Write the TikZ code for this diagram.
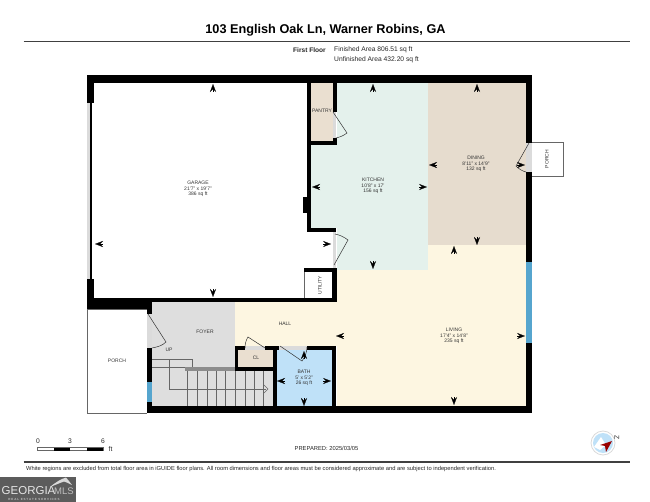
\documentclass[tikz,border=0pt]{standalone}
\usepackage{fontspec}
\setmainfont{Liberation Sans}
\usetikzlibrary{arrows.meta}
\definecolor{kitchencol}{HTML}{E4F1EC}
\definecolor{diningcol}{HTML}{E6DCCE}
\definecolor{livingcol}{HTML}{FDF6E1}
\definecolor{foyercol}{HTML}{DEDEDE}
\definecolor{bathcol}{HTML}{BFE1F8}
\definecolor{closetcol}{HTML}{EADFD0}
\definecolor{windowcol}{HTML}{56A5CE}
\definecolor{logocol}{HTML}{5C5C5C}
\tikzset{>=Stealth,
  wall/.style={fill=black},
  gap/.style={fill=black!14},
  doorline/.style={draw=black!80,line width=.5pt},
  thinline/.style={draw=black!60,line width=.5pt},
  dimtip/.style={-{Stealth[length=8pt,width=6pt,inset=3pt]},line width=.2pt},
  roomlabel/.style={font=\fontsize{5}{5.6}\selectfont,align=center,text=black!80,inner sep=0pt},
  infotext/.style={font=\fontsize{6.7}{7}\selectfont,text=black!85,inner sep=0pt}}
\begin{document}
\begin{tikzpicture}[x=1pt,y=-1pt]
\useasboundingbox (0,0) rectangle (650,502);
% room colours
\fill[kitchencol] (337,83) rectangle (428,270);
\fill[kitchencol] (311,145) rectangle (337,228);
\fill[diningcol] (428,83) rectangle (526,245);
\fill[closetcol] (311,83) rectangle (333,141);
\fill[livingcol] (428,245) rectangle (526,406);
\fill[livingcol] (337,270) rectangle (428,406);
\fill[livingcol] (235,302) rectangle (337,346);
\fill[foyercol] (152,302) rectangle (235,346);
\fill[foyercol] (152,346) rectangle (273,406);
\fill[closetcol] (238,350) rectangle (273,367);
\fill[bathcol] (277,350) rectangle (332,406);
% porches
\draw[thinline] (147,309) -- (87,309) -- (87,413) -- (147,413);
\draw[thinline] (526,142) -- (563,142) -- (563,176) -- (526,176);
% outer walls
\fill[wall] (87,75) rectangle (532,83);
\fill[wall] (87,75) rectangle (94,103);
\fill[wall] (87,279) rectangle (94,309);
\fill[gap] (87,103) rectangle (90,279);
\fill[wall] (90,103) rectangle (91.5,279);
\fill[wall] (526,75) rectangle (532,143);
\fill[gap] (526,143) rectangle (532,172);
\fill[wall] (526,172) rectangle (532,262);
\fill[windowcol] (526,262) rectangle (532,343);
\fill[wall] (526,343) rectangle (532,413);
\fill[wall] (147,406) rectangle (532,413);
% garage walls
\fill[wall] (87,298) rectangle (336,302);
\fill[wall] (87,302) rectangle (152,309);
\fill[wall] (307,83) rectangle (311,232);
\fill[wall] (303,197) rectangle (307,213);
\fill[wall] (307,141) rectangle (337,145);
\fill[wall] (333,83) rectangle (337,112);
\fill[gap] (333,112) rectangle (336,138);
\fill[wall] (333,138) rectangle (337,145);
\fill[wall] (307,228) rectangle (336,232);
\fill[gap] (333,232) rectangle (336,268);
% utility
\fill[wall] (304,268) rectangle (337,272);
\fill[wall] (332,268) rectangle (337,302);
\draw[thinline] (304,272) -- (304,298);
% foyer, closet and bath walls
\fill[wall] (147,309) rectangle (152,314);
\fill[gap] (147,314) rectangle (152,348);
\fill[wall] (147,348) rectangle (152,382);
\fill[windowcol] (147,382) rectangle (152,402);
\fill[wall] (147,402) rectangle (152,413);
\fill[wall] (235,346) rectangle (238,371);
\fill[wall] (235,346) rectangle (245,350);
\fill[gap] (245,346) rectangle (265,350);
\fill[wall] (265,346) rectangle (279,350);
\fill[gap] (279,346) rectangle (307,350);
\fill[wall] (307,346) rectangle (336,350);
\fill[wall] (235,367) rectangle (277,371);
\fill[wall] (273,346) rectangle (277,406);
\fill[wall] (332,346) rectangle (336,406);
% stairs
\fill[black!45] (185,367) rectangle (235,371);
\draw[thinline] (152,359) -- (192,359) -- (192,367);
\draw[thinline] (152,367) -- (185,367);
\draw[thinline] (187,371) -- (187,406);
\draw[thinline] (197,371) -- (197,406);
\draw[thinline] (207,371) -- (207,406);
\draw[thinline] (216,371) -- (216,406);
\draw[thinline] (225,371) -- (225,406);
\draw[thinline] (235,371) -- (235,406);
\draw[thinline] (245,371) -- (245,406);
\draw[thinline] (254,371) -- (254,406);
\draw[thinline] (263,371) -- (263,406);
\draw[thinline] (169,359) -- (169,389) -- (266,389);
\draw[thinline] (264,385) -- (268,389) -- (264,393);
% doors
\draw[doorline] (148,314) -- (166,342) .. controls (162,346) and (157,347) .. (152,348);
\draw[doorline] (333,112) -- (347,133) .. controls (343,136) and (340,137) .. (336,138);
\draw[doorline] (334,265) -- (348,240) .. controls (344,237) and (340,235) .. (335,234);
\draw[doorline] (529,143) -- (516,166) .. controls (519,169) and (522,171) .. (526,172);
\draw[doorline] (265,348) -- (248,337) .. controls (246,340) and (245,344) .. (245,348);
\draw[doorline] (280,346) -- (302,361) .. controls (305,357) and (307,352) .. (307,347);
% dimension tips
\draw[dimtip] (213,92) -- (213,84);
\draw[dimtip] (213,289) -- (213,297);
\draw[dimtip] (103,244) -- (95,244);
\draw[dimtip] (323,244) -- (331,244);
\draw[dimtip] (373,92) -- (373,84);
\draw[dimtip] (373,261) -- (373,269);
\draw[dimtip] (320,187) -- (312,187);
\draw[dimtip] (419,187) -- (427,187);
\draw[dimtip] (477,92) -- (477,84);
\draw[dimtip] (477,237) -- (477,245);
\draw[dimtip] (437,165) -- (429,165);
\draw[dimtip] (517,165) -- (525,165);
\draw[dimtip] (454,254) -- (454,246);
\draw[dimtip] (454,397) -- (454,405);
\draw[dimtip] (344,336) -- (336,336);
\draw[dimtip] (517,336) -- (525,336);
\draw[dimtip] (304,359) -- (304,351);
\draw[dimtip] (304,398) -- (304,406);
\draw[dimtip] (285,381) -- (277,381);
\draw[dimtip] (323,381) -- (331,381);
% room labels
\node[roomlabel] (garage) at (198,189) {GARAGE\\21'7" x 19'7"\\386 sq ft};
\node[roomlabel] (kitchen) at (373,186) {KITCHEN\\10'8" x 17'\\156 sq ft};
\node[roomlabel] (dining) at (476,164) {DINING\\8'11" x 14'9"\\132 sq ft};
\node[roomlabel] (living) at (454,336) {LIVING\\17'4" x 14'8"\\235 sq ft};
\node[roomlabel] (bath) at (304,378) {BATH\\5' x 5'2"\\26 sq ft};
\node[roomlabel] (pantry) at (322,111) {PANTRY};
\node[roomlabel,rotate=90] (utility) at (320,285) {UTILITY};
\node[roomlabel,rotate=90] (porchtop) at (547,159) {PORCH};
\node[roomlabel] (porchfront) at (117,361) {PORCH};
\node[roomlabel] (hall) at (285,324) {HALL};
\node[roomlabel] (foyer) at (205,332) {FOYER};
\node[roomlabel] (closet) at (256,358) {CL};
\node[roomlabel] (up) at (169,350) {UP};
% heading
\node[font=\fontsize{12.7}{14}\selectfont\bfseries,inner sep=0pt] (title) at (325.5,30) {103 English Oak Ln, Warner Robins, GA};
\draw[black!75,line width=1.1pt] (23.5,41.5) -- (630,41.5);
\node[infotext,font=\fontsize{6.6}{7}\selectfont\bfseries,anchor=east] (floor) at (326,50) {First Floor};
\node[infotext,anchor=west] (finished) at (334,50) {Finished Area 806.51 sq ft};
\node[infotext,anchor=west] (unfinished) at (334,60) {Unfinished Area 432.20 sq ft};
% scale bar
\draw[black!60,line width=.4pt,fill=white] (37,447.5) rectangle (103,450.5);
\fill (53.5,447.5) rectangle (70,450.5);
\fill (86.5,447.5) rectangle (103,450.5);
\node[infotext] (scalezero) at (38,441.5) {0};
\node[infotext] (scalethree) at (70,441.5) {3};
\node[infotext] (scalesix) at (103,441.5) {6};
\node[infotext] (scaleunit) at (110.5,449) {ft};
\node[infotext,font=\fontsize{5.8}{7}\selectfont] (prepared) at (326.5,448) {PREPARED: 2025/03/05};
% compass
\draw[black!15,fill=white,line width=.8pt] (603,443) circle (12);
\fill[bathcol] (603,443) circle (10);
\fill[white] (594,447) -- (601,437) -- (606,445) -- (600,450) -- cycle;
\fill[red!60!black] (600,445) -- (612,441) -- (606,452) -- (605,446) -- cycle;
\node[infotext,rotate=-90] (north) at (617,438) {Z};
% footer
\draw[black!75,line width=1.1pt] (23.5,462) -- (630,462);
\node[infotext,font=\fontsize{5.77}{7}\selectfont,anchor=west] (disclaimer) at (26,469) {White regions are excluded from total floor area in iGUIDE floor plans. All room dimensions and floor areas must be considered approximate and are subject to independent verification.};
% logo
\fill[logocol] (0,477) rectangle (76,502);
\fill[white!85!black] (50,487) .. controls (56,482) and (61,479) .. (66,477.5) .. controls (68,480) and (70,482) .. (72,485) .. controls (68,483) and (66,482) .. (64,481.5) .. controls (60,483) and (55,485) .. (50,487) -- cycle;
\node[inner sep=0pt,text=white!90!black,font=\fontsize{11.5}{12}\selectfont,anchor=west] (georgia) at (1.5,491) {GEORGIA};
\node[inner sep=0pt,text=white!75!black,font=\fontsize{9.5}{12}\selectfont,anchor=west] (mls) at (54,491) {MLS};
\node[inner sep=0pt,text=white!75!black,font=\fontsize{3}{4}\selectfont\bfseries] (realestate) at (34,499.5) {R E A L\ \ E S T A T E\ \ S E R V I C E S};
\end{tikzpicture}
\end{document}
